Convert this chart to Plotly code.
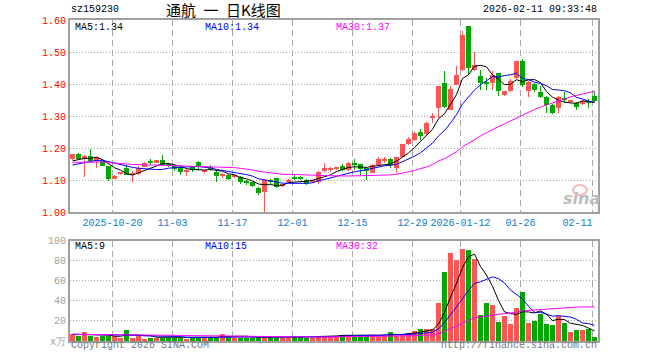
import plotly.graph_objects as go

# ---------------- data ----------------
dates = [
    "2025-10-09", "2025-10-10", "2025-10-13", "2025-10-14", "2025-10-15", "2025-10-16", "2025-10-17",
    "2025-10-20", "2025-10-21", "2025-10-22", "2025-10-23", "2025-10-24", "2025-10-27", "2025-10-28",
    "2025-10-29", "2025-10-30", "2025-10-31",
    "2025-11-03", "2025-11-04", "2025-11-05", "2025-11-06", "2025-11-07", "2025-11-10", "2025-11-11",
    "2025-11-12", "2025-11-13", "2025-11-14", "2025-11-17", "2025-11-18", "2025-11-19", "2025-11-20",
    "2025-11-21", "2025-11-24", "2025-11-25", "2025-11-26", "2025-11-27", "2025-11-28",
    "2025-12-01", "2025-12-02", "2025-12-03", "2025-12-04", "2025-12-05", "2025-12-08", "2025-12-09",
    "2025-12-10", "2025-12-11", "2025-12-12", "2025-12-15", "2025-12-16", "2025-12-17", "2025-12-18",
    "2025-12-19", "2025-12-22", "2025-12-23", "2025-12-24", "2025-12-25", "2025-12-26", "2025-12-29",
    "2025-12-30", "2025-12-31",
    "2026-01-05", "2026-01-06", "2026-01-07", "2026-01-08", "2026-01-09", "2026-01-12", "2026-01-13",
    "2026-01-14", "2026-01-15", "2026-01-16", "2026-01-19", "2026-01-20", "2026-01-21", "2026-01-22",
    "2026-01-23", "2026-01-26", "2026-01-27", "2026-01-28", "2026-01-29", "2026-01-30",
    "2026-02-02", "2026-02-03", "2026-02-04", "2026-02-05", "2026-02-06", "2026-02-09", "2026-02-10",
    "2026-02-11",
]

open_ = [
    1.167, 1.182, 1.166, 1.177, 1.161, 1.161, 1.143, 1.104, 1.120, 1.138,
    1.118, 1.120, 1.141, 1.156, 1.155, 1.163, 1.151, 1.143, 1.140, 1.126,
    1.143, 1.157, 1.126, 1.139, 1.126, 1.116, 1.116, 1.111, 1.111, 1.095,
    1.094, 1.077, 1.062, 1.097, 1.106, 1.084, 1.094, 1.109, 1.107, 1.101,
    1.096, 1.094, 1.129, 1.133, 1.136, 1.145, 1.132, 1.152, 1.150, 1.139,
    1.124, 1.148, 1.161, 1.166, 1.139, 1.174, 1.212, 1.226, 1.252, 1.243,
    1.297, 1.325, 1.405, 1.320, 1.398, 1.445, 1.580, 1.445, 1.426, 1.405,
    1.403, 1.434, 1.366, 1.377, 1.418, 1.473, 1.379, 1.400, 1.374, 1.361,
    1.335, 1.327, 1.355, 1.345, 1.341, 1.337, 1.345, 1.363,
]
high = [
    1.183, 1.184, 1.178, 1.198, 1.173, 1.167, 1.145, 1.115, 1.126, 1.147,
    1.128, 1.143, 1.156, 1.165, 1.164, 1.178, 1.153, 1.145, 1.142, 1.134,
    1.145, 1.161, 1.131, 1.148, 1.128, 1.122, 1.118, 1.118, 1.113, 1.101,
    1.096, 1.079, 1.103, 1.104, 1.108, 1.088, 1.103, 1.115, 1.112, 1.103,
    1.102, 1.128, 1.153, 1.141, 1.140, 1.150, 1.158, 1.166, 1.152, 1.142,
    1.150, 1.172, 1.173, 1.170, 1.174, 1.214, 1.236, 1.252, 1.260, 1.283,
    1.309, 1.393, 1.440, 1.393, 1.457, 1.565, 1.580, 1.500, 1.445, 1.418,
    1.440, 1.436, 1.379, 1.415, 1.473, 1.478, 1.410, 1.402, 1.393, 1.363,
    1.337, 1.362, 1.376, 1.349, 1.343, 1.349, 1.352, 1.377,
]
low = [
    1.163, 1.165, 1.111, 1.160, 1.137, 1.143, 1.099, 1.103, 1.117, 1.115,
    1.096, 1.117, 1.140, 1.148, 1.153, 1.146, 1.140, 1.128, 1.115, 1.114,
    1.125, 1.128, 1.124, 1.128, 1.096, 1.106, 1.102, 1.106, 1.087, 1.086,
    1.080, 1.054, 1.002, 1.089, 1.077, 1.080, 1.092, 1.100, 1.100, 1.084,
    1.090, 1.088, 1.127, 1.125, 1.131, 1.130, 1.130, 1.133, 1.117, 1.101,
    1.122, 1.146, 1.153, 1.139, 1.122, 1.172, 1.210, 1.224, 1.226, 1.241,
    1.280, 1.294, 1.326, 1.318, 1.396, 1.440, 1.429, 1.440, 1.382, 1.382,
    1.382, 1.363, 1.363, 1.376, 1.416, 1.390, 1.361, 1.374, 1.358, 1.309,
    1.306, 1.309, 1.340, 1.341, 1.319, 1.335, 1.327, 1.344,
]
close = [
    1.182, 1.167, 1.177, 1.161, 1.172, 1.145, 1.104, 1.114, 1.123, 1.117,
    1.122, 1.139, 1.154, 1.154, 1.163, 1.148, 1.143, 1.137, 1.127, 1.128,
    1.131, 1.144, 1.129, 1.136, 1.113, 1.119, 1.104, 1.113, 1.093, 1.094,
    1.083, 1.059, 1.101, 1.095, 1.080, 1.086, 1.101, 1.107, 1.105, 1.087,
    1.099, 1.125, 1.139, 1.135, 1.138, 1.132, 1.155, 1.150, 1.134, 1.130,
    1.148, 1.166, 1.163, 1.148, 1.172, 1.213, 1.229, 1.249, 1.239, 1.278,
    1.300, 1.393, 1.328, 1.386, 1.429, 1.552, 1.450, 1.460, 1.403, 1.403,
    1.429, 1.379, 1.377, 1.410, 1.473, 1.398, 1.408, 1.382, 1.361, 1.335,
    1.311, 1.360, 1.353, 1.347, 1.330, 1.348, 1.343, 1.346,
]
volume = [  # 万
    7.3, 5.0, 9.7, 5.0, 4.7, 5.0, 5.0, 5.0, 3.7, 11.7,
    3.7, 5.0, 2.7, 3.7, 3.7, 3.7, 3.7, 3.7, 3.7, 2.7,
    3.7, 3.7, 3.7, 3.7, 3.7, 7.3, 5.3, 3.7, 3.7, 3.7,
    3.7, 3.7, 3.7, 3.7, 3.7, 3.7, 3.7, 4.7, 4.7, 3.7,
    3.7, 5.7, 5.0, 5.3, 5.3, 6.7, 6.7, 5.3, 6.7, 5.3,
    5.3, 5.3, 5.3, 9.7, 5.3, 6.7, 8.7, 10.7, 12.0, 12.0,
    12.0, 37.7, 68.7, 88.0, 80.7, 91.7, 90.7, 82.0, 26.7, 37.7,
    35.7, 19.7, 25.7, 17.7, 33.7, 49.0, 18.7, 20.7, 27.7, 17.7,
    16.7, 25.7, 18.7, 9.7, 11.7, 11.7, 12.7, 4.7,
]
# closes / volumes of the 29 sessions before the visible window (for moving averages)
prior_close = [
    1.15, 1.16, 1.17, 1.16, 1.15, 1.16, 1.17, 1.17, 1.16, 1.15,
    1.16, 1.16, 1.17, 1.16, 1.15, 1.16, 1.17, 1.16, 1.16, 1.15,
    1.13, 1.13, 1.135, 1.14, 1.14, 1.15, 1.155, 1.16, 1.155,
]
prior_volume = [
    6, 7, 6, 8, 7, 6, 7, 6, 7, 8,
    6, 7, 7, 6, 7, 6, 8, 7, 6, 7,
    6, 7, 7, 6, 7, 6, 7, 7, 6,
]
tick_dates = ["2025-10-20", "2025-11-03", "2025-11-17", "2025-12-01", "2025-12-15",
              "2025-12-29", "2026-01-12", "2026-01-26", "2026-02-11"]
tick_text = ["2025-10-20", "11-03", "11-17", "12-01", "12-15",
             "12-29", "2026-01-12", "01-26", "02-11\u00a0\u00a0\u00a0\u00a0\u00a0"]
price_ticks = [1.0, 1.1, 1.2, 1.3, 1.4, 1.5, 1.6]
vol_ticks = [0, 20, 40, 60, 80, 100]
vol_tick_text = ["x万", "20", "40", "60", "80", "100"]

title_code = "sz159230"
title_name = "通航\u2002一\u2002日K线图"
timestamp = "2026-02-11 09:33:48"
price_ma_labels = ["MA5:1.34", "MA10:1.34", "MA30:1.37"]
vol_ma_labels = ["MA5:9", "MA10:15", "MA30:32"]

# ---------------- styles ----------------
RED = "#ff5454"
GREEN = "#00a800"
MA_COLORS = ["#000000", "#0000ff", "#ff00ff"]
GRID = "#a8a8a8"
FRAME = "#a0a0a0"
MONO = "Liberation Mono, DejaVu Sans Mono, monospace"
CJK = "Noto Sans CJK SC, sans-serif"

L, R, T, B, W, H = 70, 62, 20, 19, 660, 360
PW, PH = W - L - R, H - T - B


def fx(px):
    return (px - L) / PW


def fy(py):
    return (H - B - py) / PH


def moving_avg(series, prior, n):
    full = list(prior) + list(series)
    out = []
    for k in range(len(prior), len(full)):
        w = full[k - n + 1:k + 1]
        out.append(sum(w) / len(w))
    return out


n = len(dates)
xs = list(range(n))
up = [c >= o for o, c in zip(open_, close)]
MIN_BODY = 0.0032

fig = go.Figure()

# wicks
for flag, col in ((True, RED), (False, GREEN)):
    idx = [i for i in xs if up[i] == flag]
    fig.add_trace(go.Bar(
        x=idx, base=[low[i] for i in idx], y=[high[i] - low[i] for i in idx],
        width=1 / 6, marker=dict(color=col, line=dict(width=0)),
        xaxis="x", yaxis="y", hoverinfo="skip"))
# bodies
for flag, col in ((True, RED), (False, GREEN)):
    idx = [i for i in xs if up[i] == flag]
    fig.add_trace(go.Bar(
        x=idx, base=[min(open_[i], close[i]) for i in idx],
        y=[max(abs(close[i] - open_[i]), MIN_BODY) for i in idx],
        width=5 / 6, marker=dict(color=col, line=dict(width=0)),
        xaxis="x", yaxis="y", hoverinfo="skip"))

# price moving averages
for period, col in zip((5, 10, 30), MA_COLORS):
    fig.add_trace(go.Scatter(x=xs, y=moving_avg(close, prior_close, period), mode="lines",
                             line=dict(color=col, width=1), xaxis="x", yaxis="y",
                             hoverinfo="skip"))

# volume bars
for flag, col in ((True, RED), (False, GREEN)):
    idx = [i for i in xs if up[i] == flag]
    fig.add_trace(go.Bar(
        x=idx, y=[volume[i] for i in idx], width=5 / 6,
        marker=dict(color=col, line=dict(width=0)),
        xaxis="x2", yaxis="y2", hoverinfo="skip"))
for period, col in zip((5, 10, 30), MA_COLORS):
    fig.add_trace(go.Scatter(x=xs, y=moving_avg(volume, prior_volume, period), mode="lines",
                             line=dict(color=col, width=1), xaxis="x2", yaxis="y2",
                             hoverinfo="skip"))

tickpos = [dates.index(d) - 1 / 3 for d in tick_dates]
xr = [-5 / 12, n - 5 / 12]

common_x = dict(range=xr, tickvals=tickpos, showgrid=True, gridcolor=GRID, griddash="6px,4px",
                gridwidth=1, showline=True, linecolor=FRAME, linewidth=2, mirror=True,
                ticks="", zeroline=False, fixedrange=True)
main_bottom = fy(212.3)
vol_top = fy(240.7)

fig.update_layout(
    width=W, height=H, margin=dict(l=L, r=R, t=T, b=B),
    paper_bgcolor="white", plot_bgcolor="white", showlegend=False,
    barmode="overlay", bargap=0,
    xaxis=dict(**common_x, anchor="y", domain=[0, 1], ticktext=tick_text,
               tickfont=dict(family=MONO, size=10, color="#0a7ed0")),
    xaxis2=dict(**common_x, anchor="y2", domain=[0, 1], matches="x", showticklabels=False),
    yaxis=dict(domain=[main_bottom, 1], range=[price_ticks[0], price_ticks[-1]],
               tickvals=price_ticks, ticktext=["%.2f" % v for v in price_ticks],
               tickfont=dict(family=MONO, size=10, color="#ff0000"),
               showgrid=True, gridcolor=GRID, griddash="1px,2px", gridwidth=1,
               showline=True, linecolor=FRAME, linewidth=2, mirror=True,
               ticks="", zeroline=False, fixedrange=True, anchor="x"),
    yaxis2=dict(domain=[0, vol_top], range=[vol_ticks[0], vol_ticks[-1]],
                tickvals=vol_ticks, ticktext=vol_tick_text,
                tickfont=dict(family=MONO, size=10, color="#a0a0a0"),
                showgrid=True, gridcolor=GRID, griddash="1px,2px", gridwidth=1,
                showline=True, linecolor=FRAME, linewidth=2, mirror=True,
                ticks="", zeroline=False, fixedrange=True, anchor="x2"),
)


def label(text, px, py, color="#000000", size=10, family=MONO, anchor="left", **fontkw):
    fig.add_annotation(text=text, x=fx(px), y=fy(py), xref="paper", yref="paper",
                       xanchor=anchor, yanchor="middle", showarrow=False,
                       font=dict(family=family, size=size, color=color, **fontkw), borderpad=0)


label(title_code, 70, 10)
label(title_name, 165, 10, size=15, family=CJK)
label(timestamp, 598, 10, anchor="right")
for txt, px, col in zip(price_ma_labels, (74, 204, 335), MA_COLORS):
    label(txt, px, 27, color=col)
for txt, px, col in zip(vol_ma_labels, (74, 204, 335), MA_COLORS):
    label(txt, px, 246, color=col)
label("Copyright 2026 SINA.COM", 70, 346, color="#777777")
label("http://finance.sina.com.cn", 598, 346, color="#777777", anchor="right")
# sina watermark
fig.add_shape(type="circle", xref="paper", yref="paper",
              x0=fx(573), x1=fx(587), y0=fy(195), y1=fy(185),
              line=dict(color="#f2b8b8", width=2), fillcolor="rgba(0,0,0,0)")
label("sina", 581, 198, color="#bdbdbd", size=16,
      family="DejaVu Sans, sans-serif", anchor="center", style="italic", weight="bold")

fig.write_html("out.html")
